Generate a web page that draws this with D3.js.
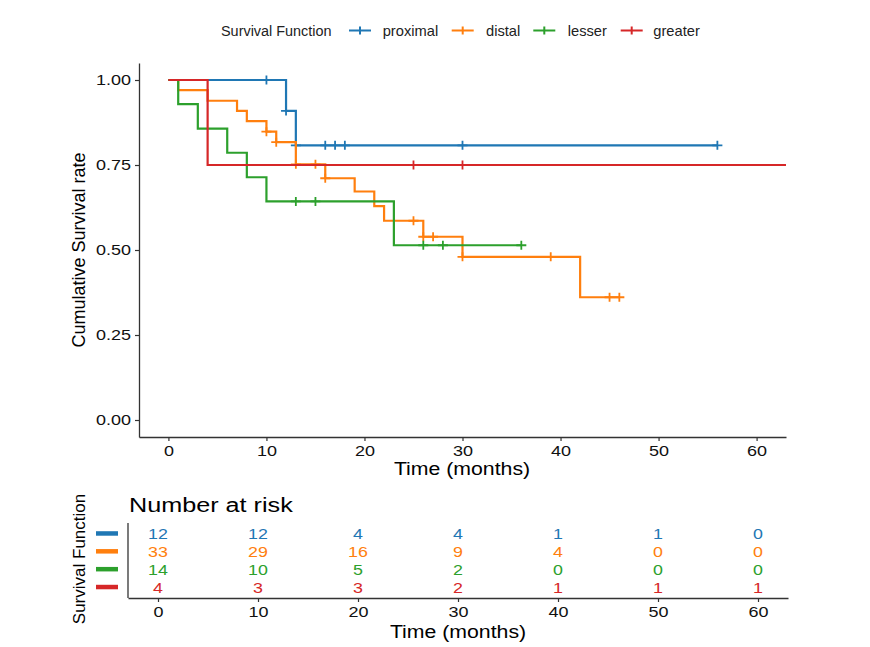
<!DOCTYPE html>
<html>
<head>
<meta charset="utf-8">
<script src="https://cdn.jsdelivr.net/npm/d3@7/dist/d3.min.js"></script>
<style>
  body { margin: 0; background: #fff; }
  text { font-family: "Liberation Sans", Arial, sans-serif; }
</style>
</head>
<body>
<div id="viz"></div>
<script>
// strata and colours
var groups = ["proximal", "distal", "lesser", "greater"];
var colors = ["#1f77b4", "#ff7f0e", "#2ca02c", "#d62728"];

// KM steps: time of each step, survival after it, last follow-up, censor times
var proximalTimes = [0, 12, 13];
var proximalSurv  = [1, 0.909, 0.808];
var proximalEnd   = 56;
var proximalCens  = [10, 12, 13, 16, 17, 18, 30, 56];

var distalTimes = [0, 1, 4, 7, 8, 10, 11, 13, 16, 19, 21, 22, 26, 30, 42];
var distalSurv  = [1, 0.970, 0.939, 0.909, 0.879, 0.848, 0.817, 0.752, 0.711, 0.672, 0.629, 0.586, 0.539, 0.480, 0.361];
var distalEnd   = 46;
var distalCens  = [10, 11, 13, 15, 16, 25, 26, 27, 30, 39, 45, 46];

var lesserTimes = [0, 1, 3, 6, 8, 10, 23];
var lesserSurv  = [1, 0.929, 0.857, 0.786, 0.714, 0.643, 0.514];
var lesserEnd   = 36;
var lesserCens  = [13, 15, 26, 28, 36];

var greaterTimes = [0, 4];
var greaterSurv  = [1, 0.75];
var greaterEnd   = 66;
var greaterCens  = [25, 30];

// number at risk table
var riskTimes    = [0, 10, 20, 30, 40, 50, 60];
var riskProximal = [12, 12, 4, 4, 1, 1, 0];
var riskDistal   = [33, 29, 16, 9, 4, 0, 0];
var riskLesser   = [14, 10, 5, 2, 0, 0, 0];
var riskGreater  = [4, 3, 3, 2, 1, 1, 1];

var xTicks = [0, 10, 20, 30, 40, 50, 60];
var yTicks = [0, 0.25, 0.5, 0.75, 1];

var series = [
  {name: "proximal", times: proximalTimes, surv: proximalSurv, end: proximalEnd, cens: proximalCens, risk: riskProximal},
  {name: "distal",   times: distalTimes,   surv: distalSurv,   end: distalEnd,   cens: distalCens,   risk: riskDistal},
  {name: "lesser",   times: lesserTimes,   surv: lesserSurv,   end: lesserEnd,   cens: lesserCens,   risk: riskLesser},
  {name: "greater",  times: greaterTimes,  surv: greaterSurv,  end: greaterEnd,  cens: greaterCens,  risk: riskGreater}
];

var W = 870, H = 647;
var color = d3.scaleOrdinal().domain(groups).range(colors);

var svg = d3.select("#viz").append("svg")
  .attr("width", W).attr("height", H);

// text helper: the source image is a bit stretched sideways
function label(g, x, y, str, size, sx, anchor, fill) {
  return g.append("text")
    .attr("transform", "translate(" + x + "," + y + ") scale(" + sx + ",1)")
    .attr("text-anchor", anchor || "start")
    .style("font-size", size + "px")
    .attr("fill", fill || "#000")
    .text(str);
}

// ---------------- main KM panel ----------------
var x = d3.scaleLinear().domain([-3, 63]).range([139, 786]);
var y = d3.scaleLinear().domain([-0.05, 1.05]).range([437, 63]);

svg.append("clipPath").attr("id", "panel")
  .append("rect").attr("x", 139).attr("y", 63).attr("width", 647).attr("height", 374);

function survAt(s, t) {
  var v = s.surv[0];
  for (var i = 0; i < s.times.length; i++) if (s.times[i] <= t) v = s.surv[i];
  return v;
}

var line = d3.line()
  .x(function(d) { return x(d[0]); })
  .y(function(d) { return y(d[1]); })
  .curve(d3.curveStepAfter);

var plot = svg.append("g").attr("clip-path", "url(#panel)");

series.forEach(function(s) {
  var pts = s.times.map(function(t, i) { return [t, s.surv[i]]; });
  pts.push([s.end, s.surv[s.surv.length - 1]]);
  plot.append("path")
    .attr("d", line(pts))
    .attr("fill", "none")
    .attr("stroke", color(s.name))
    .attr("stroke-width", 2.2);

  plot.selectAll(null)
    .data(s.cens)
    .enter().append("path")
    .attr("d", function(t) {
      var cx = x(t), cy = y(survAt(s, t));
      return "M" + (cx - 5) + "," + cy + "H" + (cx + 5) + "M" + cx + "," + (cy - 4.5) + "V" + (cy + 4.5);
    })
    .attr("stroke", color(s.name))
    .attr("stroke-width", 1.8);
});

var axisCol = "#333";

var gx = svg.append("g").attr("transform", "translate(0,437)")
  .call(d3.axisBottom(x).tickValues(xTicks).tickSize(4).tickSizeOuter(0).tickPadding(4));
var gy = svg.append("g").attr("transform", "translate(139,0)")
  .call(d3.axisLeft(y).tickValues(yTicks).tickSize(4).tickSizeOuter(0).tickPadding(4).tickFormat(d3.format(".2f")));

[gx, gy].forEach(function(g) {
  g.select(".domain").attr("stroke", axisCol).attr("stroke-width", 1.3);
  g.selectAll(".tick line").attr("stroke", axisCol).attr("stroke-width", 1.2);
  g.selectAll("text").style("font-size", "15px").attr("fill", "#111")
    .style("font-family", "'Liberation Sans', Arial, sans-serif");
});
gx.selectAll("text").attr("transform", "scale(1.2,1)");
gy.selectAll("text").attr("x", null).attr("transform", "translate(-8,0) scale(1.2,1)");

label(svg, 462, 475, "Time (months)", 18.5, 1.15, "middle");
svg.append("text")
  .attr("transform", "translate(85,250) rotate(-90)")
  .attr("text-anchor", "middle")
  .style("font-size", "18px")
  .text("Cumulative Survival rate");

// ---------------- legend ----------------
var legX = [349, 451.7, 533.3, 620.7];
var legTextX = [382.7, 486, 567.7, 653.3];
label(svg, 221, 35.5, "Survival Function", 14, 1.03, "start", "#222");
groups.forEach(function(gname, i) {
  svg.append("path")
    .attr("d", "M" + legX[i] + ",30.5H" + (legX[i] + 22) + "M" + (legX[i] + 11) + ",26.5V34.5")
    .attr("stroke", color(gname)).attr("stroke-width", 2);
  label(svg, legTextX[i], 35.5, gname, 14, 1.05, "start", "#222");
});

// ---------------- risk table ----------------
var tx = d3.scaleLinear().domain([-3, 63]).range([128, 788]);
var ty = d3.scalePoint().domain(groups).range([523, 598]).padding(0.6);

label(svg, 129, 511.5, "Number at risk", 21, 1.2);

var tbl = svg.append("g");
series.forEach(function(s) {
  tbl.selectAll(null)
    .data(s.risk)
    .enter().append("text")
    .attr("transform", function(d, i) { return "translate(" + tx(riskTimes[i]) + "," + (ty(s.name) + 5.5) + ") scale(1.15,1)"; })
    .attr("text-anchor", "middle")
    .style("font-size", "15.5px")
    .attr("fill", color(s.name))
    .text(function(d) { return d; });

  tbl.append("rect")
    .attr("x", 96).attr("y", ty(s.name) - 2.5)
    .attr("width", 22).attr("height", 4.5)
    .attr("fill", color(s.name));
});

var tgx = svg.append("g").attr("transform", "translate(0,598)")
  .call(d3.axisBottom(tx).tickValues(xTicks).tickSize(4).tickSizeOuter(0).tickPadding(4));
tgx.select(".domain").attr("stroke", axisCol).attr("stroke-width", 1.3);
tgx.selectAll(".tick line").attr("stroke", axisCol).attr("stroke-width", 1.2);
tgx.selectAll("text").style("font-size", "15px").attr("fill", "#111")
  .style("font-family", "'Liberation Sans', Arial, sans-serif")
  .attr("transform", "scale(1.2,1)");

svg.append("line")
  .attr("x1", 128).attr("x2", 128).attr("y1", 523).attr("y2", 598)
  .attr("stroke", axisCol).attr("stroke-width", 1.3);

label(svg, 458, 638, "Time (months)", 18.5, 1.15, "middle");
svg.append("text")
  .attr("transform", "translate(85,559) rotate(-90)")
  .attr("text-anchor", "middle")
  .style("font-size", "17px")
  .text("Survival Function");
</script>
</body>
</html>
